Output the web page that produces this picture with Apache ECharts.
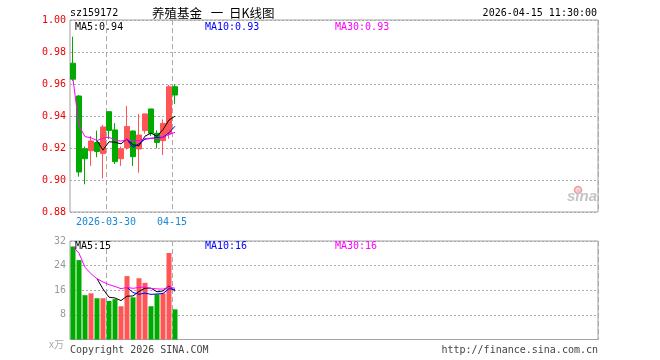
<!DOCTYPE html>
<html><head><meta charset="utf-8">
<script src="https://cdn.jsdelivr.net/npm/echarts@6/dist/echarts.min.js"></script>
<style>html,body{margin:0;padding:0;background:#fff}#c{width:660px;height:360px}</style>
</head><body><div id="c"></div>
<script>
// ---- data ----
const dates = ['2026-03-20','2026-03-23','2026-03-24','2026-03-25','2026-03-26','2026-03-27',
  '2026-03-30','2026-03-31','2026-04-01','2026-04-02','2026-04-03','2026-04-07',
  '2026-04-08','2026-04-09','2026-04-10','2026-04-13','2026-04-14','2026-04-15'];
const opens  = [0.973,0.9525,0.9195,0.9183,0.9234,0.9165,0.9427,0.9313,0.9133,0.9200,0.9306,0.9194,0.9309,0.9444,0.9292,0.9246,0.9288,0.9583];
const closes = [0.963,0.9050,0.9133,0.9244,0.9178,0.9332,0.9310,0.9115,0.9195,0.9334,0.9146,0.9281,0.9413,0.9292,0.9235,0.9354,0.9583,0.9531];
const lows   = [0.962,0.9021,0.8973,0.9088,0.9142,0.9010,0.9255,0.9100,0.9088,0.9190,0.9088,0.9046,0.9290,0.9275,0.9198,0.9156,0.9258,0.9475];
const highs  = [0.9896,0.9531,0.9209,0.9275,0.9309,0.9344,0.9430,0.9355,0.9209,0.9463,0.9310,0.9413,0.9413,0.9444,0.9310,0.9379,0.9594,0.9598];
const volumes = [30.2,25.8,14.4,15.0,13.4,13.4,12.5,13.1,10.8,20.6,13.7,19.9,18.4,10.8,14.7,15.0,28.1,9.8];
const xTickDates  = ['2026-03-30','2026-04-15'];
const xTickLabels = ['2026-03-30','04-15'];
const priceTicks = {min:0.88, max:1.00, step:0.02};
const volTicks = {min:0, max:32, step:8};
const SLOTS = 88;

// ---- helpers ----
function ma(arr, n, partial) {
  return arr.map((v, i) => {
    if (i < n - 1 && !partial) return '-';
    const s = Math.max(0, i - n + 1);
    let sum = 0; for (let k = s; k <= i; k++) sum += arr[k];
    return +(sum / (i - s + 1)).toFixed(4);
  });
}
const cats = dates.concat(Array.from({length: SLOTS - dates.length}, () => ''));
const tickIdx = xTickDates.map(d => dates.indexOf(d));
const UP = '#ff5555', DOWN = '#00aa00';
const MONO = "'DejaVu Sans Mono', monospace";
const CJK = "'Noto Sans CJK SC', sans-serif";
const chart = echarts.init(document.getElementById('c'), null, {renderer: 'canvas'});

function xAxisCfg(gi, labels) {
  return {
    type: 'category', gridIndex: gi, data: cats, boundaryGap: true,
    axisLine: {show: false}, axisTick: {show: false},
    splitLine: {show: true, interval: (i) => tickIdx.includes(i),
      lineStyle: {color: '#aaa', type: [5, 3], width: 1}},
    axisLabel: labels ? {
      show: true, interval: (i) => tickIdx.includes(i),
      formatter: (v, i) => { const k = tickIdx.indexOf(i); return k >= 0 ? xTickLabels[k] : ''; },
      color: '#1a86d6', fontFamily: MONO, fontSize: 10, margin: 5, padding: [0, 6, 0, 0]
    } : {show: false}
  };
}
const lineS = (name, data, color, xi) => ({
  type: 'line', name, data, xAxisIndex: xi, yAxisIndex: xi, symbol: 'none', showSymbol: false,
  lineStyle: {color, width: 1}, silent: true, z: 5
});

chart.setOption({
  animation: false,
  backgroundColor: '#fff',
  grid: [
    {left: 70, width: 528, top: 20, height: 192, show: true, borderColor: '#a0a0a0', borderWidth: 1},
    {left: 70, width: 528, top: 241, height: 98.5, show: true, borderColor: '#a0a0a0', borderWidth: 1}
  ],
  xAxis: [xAxisCfg(0, true), xAxisCfg(1, false)],
  yAxis: [
    {type: 'value', gridIndex: 0, min: priceTicks.min, max: priceTicks.max, interval: priceTicks.step,
      axisLine: {show: false}, axisTick: {show: false},
      splitLine: {lineStyle: {color: '#aaa', type: [2, 2]}},
      axisLabel: {color: '#ee0000', fontFamily: MONO, fontSize: 10, margin: 4, formatter: v => v.toFixed(2)}},
    {type: 'value', gridIndex: 1, min: volTicks.min, max: volTicks.max, interval: volTicks.step,
      axisLine: {show: false}, axisTick: {show: false},
      splitLine: {lineStyle: {color: '#aaa', type: [2, 2]}},
      axisLabel: {color: '#999', fontFamily: MONO, fontSize: 10, margin: 4, formatter: v => v === 0 ? '' : String(v)}}
  ],
  series: [
    {type: 'candlestick', xAxisIndex: 0, yAxisIndex: 0, barWidth: 5,
      data: dates.map((d, i) => [opens[i], closes[i], lows[i], highs[i]]),
      itemStyle: {color: UP, color0: DOWN, borderColor: UP, borderColor0: DOWN, borderWidth: 1}},
    lineS('MA5', ma(closes, 5), '#000000', 0),
    lineS('MA10', ma(closes, 10), '#0000ff', 0),
    lineS('MA30', ma(closes, 30, true), '#ff00ff', 0),
    {type: 'bar', xAxisIndex: 1, yAxisIndex: 1, barWidth: 5,
      data: volumes.map((v, i) => ({value: v, itemStyle: {color: closes[i] >= opens[i] ? UP : DOWN}}))},
    lineS('VMA5', ma(volumes, 5), '#000000', 1),
    lineS('VMA10', ma(volumes, 10), '#0000ff', 1),
    lineS('VMA30', ma(volumes, 30, true), '#ff00ff', 1)
  ],
  graphic: [
    {type: 'text', style: {text: 'sz159172', x: 70, y: 13, textVerticalAlign: 'middle', font: '10px ' + MONO, fill: '#000'}},
    {type: 'text', style: {text: '养殖基金', x: 152, y: 13, textVerticalAlign: 'middle', font: '12.5px ' + CJK, fill: '#000'}},
    {type: 'text', style: {text: '一', x: 217, y: 13, textAlign: 'center', textVerticalAlign: 'middle', font: '12.5px ' + CJK, fill: '#000'}},
    {type: 'text', style: {text: '日K线图', x: 229, y: 13, textVerticalAlign: 'middle', font: '12.5px ' + CJK, fill: '#000'}},
    {type: 'text', style: {text: '2026-04-15 11:30:00', x: 597, y: 13, textAlign: 'right', textVerticalAlign: 'middle', font: '10px ' + MONO, fill: '#000'}},
    {type: 'text', z: 10, style: {text: 'MA5:0.94', x: 75, y: 27, textVerticalAlign: 'middle', font: '10px ' + MONO, fill: '#000'}},
    {type: 'text', z: 10, style: {text: 'MA10:0.93', x: 205, y: 27, textVerticalAlign: 'middle', font: '10px ' + MONO, fill: '#0000ff'}},
    {type: 'text', z: 10, style: {text: 'MA30:0.93', x: 335, y: 27, textVerticalAlign: 'middle', font: '10px ' + MONO, fill: '#ff00ff'}},
    {type: 'text', z: 10, style: {text: 'MA5:15', x: 75, y: 246, textVerticalAlign: 'middle', font: '10px ' + MONO, fill: '#000'}},
    {type: 'text', z: 10, style: {text: 'MA10:16', x: 205, y: 246, textVerticalAlign: 'middle', font: '10px ' + MONO, fill: '#0000ff'}},
    {type: 'text', z: 10, style: {text: 'MA30:16', x: 335, y: 246, textVerticalAlign: 'middle', font: '10px ' + MONO, fill: '#ff00ff'}},
    {type: 'text', style: {text: 'x万', x: 64, y: 344, textAlign: 'right', textVerticalAlign: 'middle', font: '10px ' + CJK, fill: '#aaa'}},
    {type: 'text', style: {text: 'Copyright 2026 SINA.COM', x: 70, y: 350, textVerticalAlign: 'middle', font: '10px ' + MONO, fill: '#444'}},
    {type: 'text', style: {text: 'http://finance.sina.com.cn', x: 598, y: 350, textAlign: 'right', textVerticalAlign: 'middle', font: '10px ' + MONO, fill: '#444'}},
    {type: 'circle', shape: {cx: 578, cy: 190, r: 3.5}, style: {fill: '#fbd4d4', stroke: '#f29a9a', lineWidth: 1.5}},
    {type: 'text', style: {text: 'sina', x: 597, y: 204, textAlign: 'right', textVerticalAlign: 'bottom', font: "italic bold 15px 'Liberation Sans', sans-serif", fill: '#c4c4c4'}}
  ]
});
</script>
</body></html>
